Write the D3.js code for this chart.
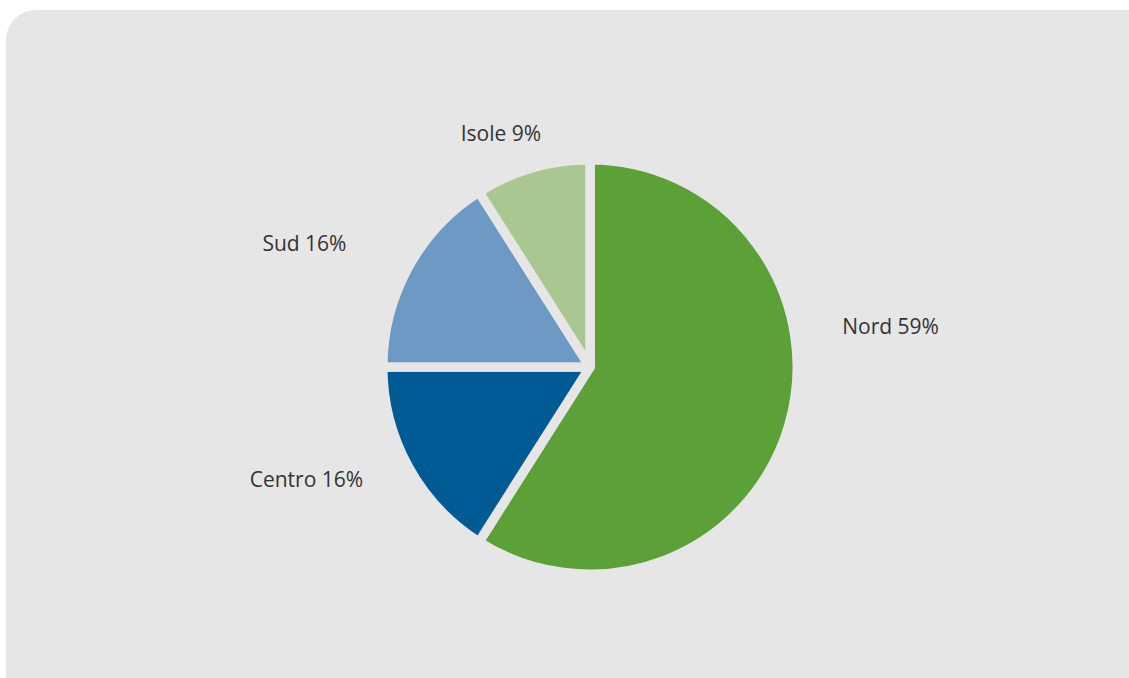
<!DOCTYPE html>
<html><head><meta charset="utf-8">
<script src="https://cdn.jsdelivr.net/npm/d3@7"></script>
<style>html,body{margin:0;padding:0;background:#fff;} svg{display:block;}</style>
</head><body><svg id="chart" width="1129" height="678"></svg>
<script>
// ---- data ----
const categories = ["Nord", "Centro", "Sud", "Isole"];
const values = [59, 16, 16, 9];
const valueLabels = ["59%", "16%", "16%", "9%"];
const colors = ["#5ca038", "#005b94", "#6d9ac5", "#a9c891"];

// ---- layout ----
const W = 1129, H = 678;
const cx = 590, cy = 367, visibleR = 202.5, gap = 9.5;
const labelR = 262;
const labelNudge = [[49, -106], [-54, -6], [-56, 10], [-16, 26]];
const bg = "#e6e6e6";

const svg = d3.select("#chart");
svg.append("rect").attr("x", 6).attr("y", 10).attr("width", W + 40).attr("height", H + 40)
  .attr("rx", 30).attr("ry", 30).attr("fill", bg);

const data = categories.map((c, i) => ({ cat: c, value: values[i], label: c + " " + valueLabels[i], color: colors[i], nudge: labelNudge[i] }));
const pie = d3.pie().sort(null).value(d => d.value).startAngle(0).endAngle(2 * Math.PI);
const arcs = pie(data);
const arc = d3.arc().innerRadius(0).outerRadius(visibleR + gap / 2);
const labelArc = d3.arc().innerRadius(labelR).outerRadius(labelR);

const g = svg.append("g").attr("transform", `translate(${cx},${cy})`);
g.selectAll("path.slice").data(arcs).join("path")
  .attr("class", "slice")
  .attr("d", arc)
  .attr("fill", d => d.data.color)
  .attr("stroke", bg)
  .attr("stroke-width", gap)
  .attr("stroke-linejoin", "round");

g.selectAll("text.lbl").data(arcs).join("text")
  .attr("class", "lbl")
  .attr("x", d => labelArc.centroid(d)[0] + d.data.nudge[0])
  .attr("y", d => labelArc.centroid(d)[1] + d.data.nudge[1])
  .attr("text-anchor", "middle")
  .attr("font-family", "'Open Sans', 'Noto Sans', sans-serif")
  .attr("font-size", 21)
  .attr("fill", "#333333")
  .text(d => d.data.label);
</script>
</body></html>
